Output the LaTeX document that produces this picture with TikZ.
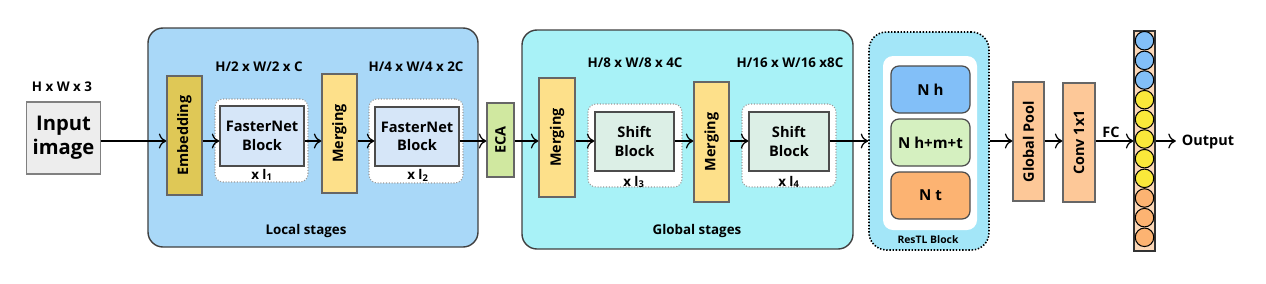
\documentclass[tikz,border=0pt]{standalone}
\usepackage{fontspec}
\setmainfont{Open Sans}
\usetikzlibrary{arrows.meta}

\definecolor{localbg}{HTML}{A9D8F8}
\definecolor{globalbg}{HTML}{A8F2F7}
\definecolor{restlbg}{HTML}{A3E6F8}
\definecolor{embcol}{HTML}{DFC856}
\definecolor{mergecol}{HTML}{FDE08A}
\definecolor{fastercol}{HTML}{D6E6F8}
\definecolor{shiftcol}{HTML}{DCEFE6}
\definecolor{ecacol}{HTML}{D0E8A0}
\definecolor{poolcol}{HTML}{FDC898}
\definecolor{nhcol}{HTML}{82BFF8}
\definecolor{nmcol}{HTML}{D5F0C0}
\definecolor{ntcol}{HTML}{FCB372}
\definecolor{yelcol}{HTML}{FAE83A}
\definecolor{colbg}{HTML}{FCD8B8}

\tikzset{
  stage/.style={draw=black!75, line width=0.8pt, rounded corners=3mm},
  repbox/.style={draw=black!40, densely dotted, line width=0.6pt, fill=white, rounded corners=1.6mm},
  blk/.style={draw=black!70, line width=0.7pt, align=center, font=\bfseries\fontsize{8.3}{10.5}\selectfont},
  vbox/.style={draw=black!60, line width=0.7pt, minimum height=23.8mm},
  vlab/.style={rotate=90, font=\bfseries\fontsize{8.2}{10}\selectfont},
  nbox/.style={draw=black!70, line width=0.7pt, rounded corners=1.6mm, minimum width=15.8mm, minimum height=9.4mm, font=\bfseries\fontsize{8.6}{10}\selectfont},
  dot/.style={draw=black, line width=0.6pt, circle, inner sep=0pt, minimum size=3.7mm},
  conn/.style={->, line width=0.7pt}
}

\begin{document}
\begin{tikzpicture}[x=0.2mm, y=-0.2mm, >={To[length=1.5mm,width=3mm]},
  font=\bfseries\fontsize{7.6}{9.5}\selectfont]
  \useasboundingbox (0,0) rectangle (1266,283);
  \coordinate (row) at (0,141);

  % Input
  \node[blk, draw=black!50, fill=black!7, minimum width=14.2mm, minimum height=14.4mm,
    font=\bfseries\fontsize{11.5}{13.8}\selectfont] (inp) at (63.5,138) {Input\\image};
  \node (inlab) at (62,87) {H x W x 3};

  % Local stages
  \node[stage, fill=localbg, minimum width=66mm, minimum height=43.8mm] (local) at (313,137.5) {};
  \node (loclab) at (306,231) {Local stages};
  \node[vbox, fill=embcol, minimum width=7mm, label={[vlab]center:Embedding}] (emb) at (184.5,135.5) {};
  \node[repbox, minimum width=18.6mm, minimum height=16.6mm] (rep1) at (261.5,140.5) {};
  \node[blk, fill=fastercol, minimum width=16mm, minimum height=12mm] (fn1) at (262,136) {FasterNet\\Block};
  \node (rep1lab) at (262,175) {x l\textsubscript{1}};
  \node (size1) at (259,67) {H/2 x W/2 x C};
  \node[vbox, fill=mergecol, minimum width=7mm, label={[vlab]center:Merging}] (mrg1) at (339.5,133.5) {};
  \node[repbox, minimum width=18.8mm, minimum height=16.8mm] (rep2) at (416,141) {};
  \node[blk, fill=fastercol, minimum width=16mm, minimum height=11.8mm] (fn2) at (417,136.5) {FasterNet\\Block};
  \node (rep2lab) at (418,175) {x l\textsubscript{2}};
  \node (size2) at (416,67) {H/4 x W/4 x 2C};

  % ECA
  \node[vbox, fill=ecacol, minimum width=5.4mm, minimum height=14.8mm, label={[vlab]center:ECA}] (eca) at (500.5,140) {};

  % Global stages
  \node[stage, fill=globalbg, minimum width=66.2mm, minimum height=43.8mm] (global) at (687.5,139.5) {};
  \node (glolab) at (697,231) {Global stages};
  \node[vbox, fill=mergecol, minimum width=7.2mm, label={[vlab]center:Merging}] (mrg2) at (557,137.5) {};
  \node[repbox, minimum width=18.8mm, minimum height=16.6mm] (rep3) at (635,145.5) {};
  \node[blk, fill=shiftcol, minimum width=15.8mm, minimum height=11.8mm] (sh1) at (634.5,141.5) {Shift\\Block};
  \node (rep3lab) at (634,182) {x l\textsubscript{3}};
  \node (size3) at (635,63) {H/8 x W/8 x 4C};
  \node[vbox, fill=mergecol, minimum width=7mm, minimum height=24mm, label={[vlab]center:Merging}] (mrg3) at (711.5,142) {};
  \node[repbox, minimum width=18.8mm, minimum height=16.6mm] (rep4) at (789,145.5) {};
  \node[blk, fill=shiftcol, minimum width=16mm, minimum height=11.8mm] (sh2) at (789,141.5) {Shift\\Block};
  \node (rep4lab) at (789,182) {x l\textsubscript{4}};
  \node (size4) at (790,63) {H/16 x W/16 x8C};

  % ResTL block
  \node[stage, fill=restlbg, draw=black, densely dotted, line width=0.9pt, rounded corners=3.5mm,
    minimum width=24mm, minimum height=43.6mm] (restl) at (929,141) {};
  \node[fill=white, rounded corners=2mm, minimum width=18.8mm, minimum height=34.8mm] (restlin) at (930,143) {};
  \node[nbox, fill=nhcol] (nh) at (930.5,89.5) {N h};
  \node[nbox, fill=nmcol] (nm) at (930.5,142.5) {N h+m+t};
  \node[nbox, fill=ntcol] (nt) at (930.5,195.5) {N t};
  \node[font=\bfseries\fontsize{5.9}{7}\selectfont] (restllab) at (928,240) {ResTL Block};

  % Head
  \node[vbox, fill=poolcol, minimum width=6.2mm, label={[vlab]center:Global Pool}] (gp) at (1028.5,141.5) {};
  \node[vbox, fill=poolcol, minimum width=6.4mm, label={[vlab]center:Conv 1x1}] (conv) at (1079,142.5) {};
  \node[font=\bfseries\fontsize{8.2}{10}\selectfont] (fclab) at (1111,132) {FC};
  \node[draw=black!80, line width=0.7pt, fill=colbg, minimum width=4.2mm, minimum height=44mm] (col) at (1144.5,141) {};
  \foreach \i/\c in {1/nhcol,2/nhcol,3/nhcol,4/yelcol,5/yelcol,6/yelcol,7/yelcol,8/yelcol,9/ntcol,10/ntcol,11/ntcol}
    \node[dot, fill=\c] (c\i) at (1144.5,{40.7+19.66*(\i-1)}) {};
  \node[font=\bfseries\fontsize{8.2}{10}\selectfont] (out) at (1208,142) {Output};

  % arrows
  \draw[conn] (inp.east |- row) -- (emb.west |- row);
  \draw[conn] (emb.east |- row) -- (fn1.west |- row);
  \draw[conn] (fn1.east |- row) -- (mrg1.west |- row);
  \draw[conn] (mrg1.east |- row) -- (fn2.west |- row);
  \draw[conn] (fn2.east |- row) -- (eca.west |- row);
  \draw[conn] (eca.east |- row) -- (mrg2.west |- row);
  \draw[conn] (mrg2.east |- row) -- (sh1.west |- row);
  \draw[conn] (sh1.east |- row) -- (mrg3.west |- row);
  \draw[conn] (mrg3.east |- row) -- (sh2.west |- row);
  \draw[conn] (sh2.east |- row) -- (restl.west |- row);
  \draw[conn] (restl.east |- row) -- (gp.west |- row);
  \draw[conn] (gp.east |- row) -- (conv.west |- row);
  \draw[conn] (conv.east |- row) -- (col.west |- row);
  \draw[conn] (col.east |- row) -- (out.west |- row);
\end{tikzpicture}
\end{document}
